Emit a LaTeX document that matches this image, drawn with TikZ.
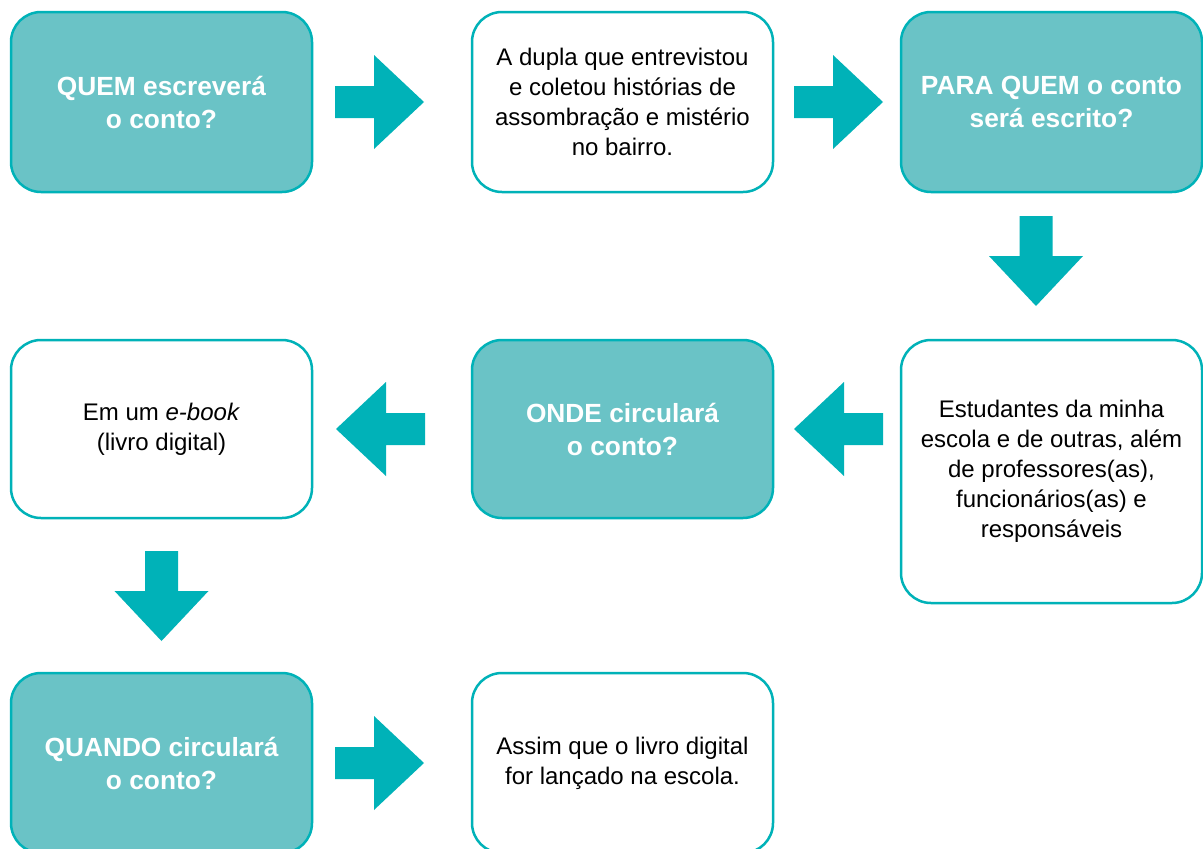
\documentclass[tikz,border=0pt]{standalone}
\usepackage{fontspec}
\setmainfont{Liberation Sans}
\definecolor{tealfill}{RGB}{106,195,198}
\definecolor{tealline}{RGB}{0,178,184}
\begin{document}
\begin{tikzpicture}[x=1pt,y=-1pt,
  box/.style={draw=tealline,line width=2.5pt,rounded corners=30pt,minimum width=301pt,minimum height=180pt,inner sep=0pt,outer sep=0pt,align=center},
  qbox/.style={box,fill=tealfill,text=white,font=\fontsize{26.3}{33}\selectfont\bfseries},
  abox/.style={box,fill=white,text=black,font=\fontsize{24}{30}\selectfont},
  rarrow/.pic={\fill[tealline] (0,-16)--(39,-16)--(39,-47)--(89,0)--(39,47)--(39,16)--(0,16)--cycle;},
  larrow/.pic={\fill[tealline] (0,-16)--(-39,-16)--(-39,-47)--(-89,0)--(-39,47)--(-39,16)--(0,16)--cycle;},
  darrow/.pic={\fill[tealline] (-16.5,0)--(16.5,0)--(16.5,40)--(47,40)--(0,90)--(-47,40)--(-16.5,40)--cycle;}
]
\clip (0,0) rectangle (1203,849);
\fill[white] (0,0) rectangle (1203,849);
% row 1
\node[qbox] (b1) at (161.5,102) {QUEM escreverá\\o conto?};
\node[abox] (b2) at (622.5,102) {A dupla que entrevistou\\e coletou histórias de\\assombração e mistério\\no bairro.};
\node[qbox] (b3) at (1051.5,102) {PARA QUEM o conto\\será escrito?};
% row 2
\node[abox,minimum height=263pt] (b4) at (1051.5,471.5) {Estudantes da minha\\escola e de outras, além\\de professores(as),\\funcionários(as) e\\responsáveis};
\node[qbox,minimum height=178pt] (b5) at (622.5,429) {ONDE circulará\\o conto?};
\node[abox,minimum height=178pt] (b6) at (161.5,429) {Em um \textit{e-book}\\(livro digital)};
% row 3
\node[qbox] (b7) at (161.5,763) {QUANDO circulará\\o conto?};
\node[abox] (b8) at (622.5,763) {Assim que o livro digital\\for lançado na escola.};
% block arrows
\pic at (335,102) {rarrow};
\pic at (794,102) {rarrow};
\pic at (1036,216) {darrow};
\pic at (883,429) {larrow};
\pic at (425,429) {larrow};
\pic at (161.5,551) {darrow};
\pic at (335,763) {rarrow};
\end{tikzpicture}
\end{document}
